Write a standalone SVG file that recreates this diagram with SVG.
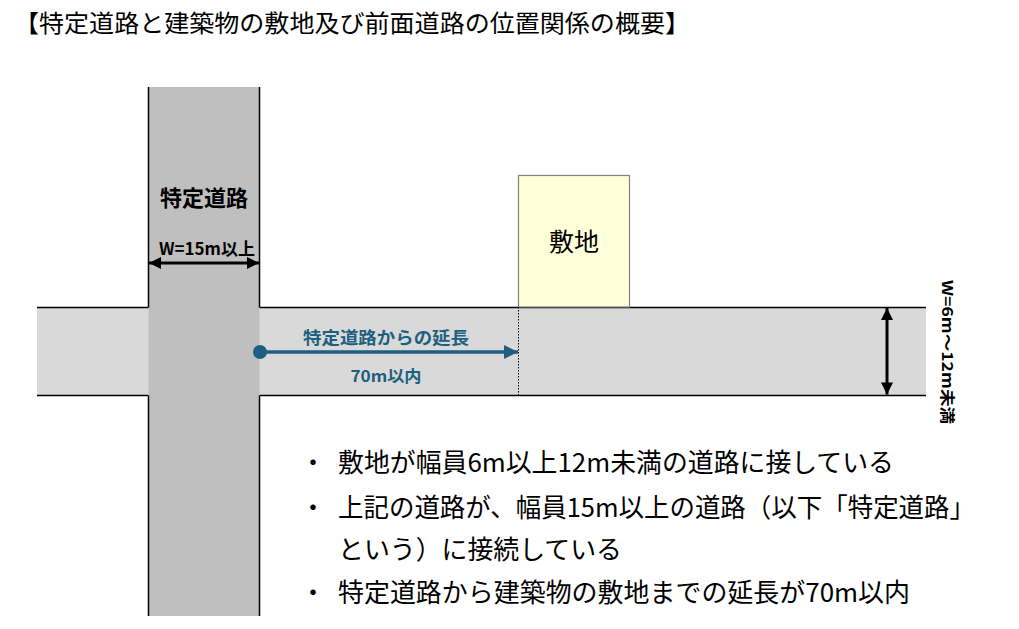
<svg xmlns="http://www.w3.org/2000/svg" width="1019" height="629" viewBox="0 0 1019 629">
  <style>
    .jp { font-family: "Noto Sans CJK JP", "Noto Sans", sans-serif; }
    .b { font-weight: bold; }
    .edge { stroke: #000; stroke-width: 1.5; fill: none; }
    .blue { fill: #1D5F80; }
  </style>
  <defs>
    <marker id="ah" viewBox="0 0 10 10" refX="10" refY="5" markerWidth="4.3" markerHeight="4" orient="auto-start-reverse" markerUnits="strokeWidth">
      <path d="M0,0 L10,5 L0,10 Z" fill="#000"/>
    </marker>
    <marker id="ahb" viewBox="0 0 10 10" refX="10" refY="5" markerWidth="4" markerHeight="4.2" orient="auto" markerUnits="strokeWidth">
      <path d="M0,0 L10,5 L0,10 Z" fill="#1D5F80"/>
    </marker>
  </defs>
  <rect width="1019" height="629" fill="#fff"/>

  <text class="jp" x="14" y="32" font-size="24" textLength="676" lengthAdjust="spacingAndGlyphs">【特定道路と建築物の敷地及び前面道路の位置関係の概要】</text>

  <g id="front-road">
    <rect x="37" y="307" width="889" height="88" fill="#D9D9D9"/>
    <path class="edge" d="M37,307.5 H148.5 M259.5,307.5 H926 M37,395.5 H148.5 M259.5,395.5 H926"/>
  </g>

  <g id="specific-road">
    <rect x="148.5" y="87" width="111" height="529" fill="#BFBFBF"/>
    <path class="edge" d="M148.5,87 V307.5 M148.5,395.5 V616 M259.5,87 V307.5 M259.5,395.5 V616"/>
    <text class="jp b" x="204" y="206" font-size="22" text-anchor="middle">特定道路</text>
    <text class="jp b" x="207" y="255" font-size="17" text-anchor="middle" textLength="96" lengthAdjust="spacingAndGlyphs">W=15m以上</text>
  </g>

  <g id="site">
    <rect x="518.5" y="175.5" width="111" height="131.5" fill="#FFFFD9" stroke="#808080" stroke-width="1.2"/>
    <text class="jp" x="574" y="251" font-size="25" text-anchor="middle">敷地</text>
  </g>

  <g id="connectors">
    <line x1="149" y1="263" x2="259" y2="263" stroke="#000" stroke-width="3" marker-start="url(#ah)" marker-end="url(#ah)"/>
    <line x1="887" y1="308" x2="887" y2="394.5" stroke="#000" stroke-width="3" marker-start="url(#ah)" marker-end="url(#ah)"/>
    <line x1="518.5" y1="307" x2="518.5" y2="395" stroke="#000" stroke-width="1" stroke-dasharray="1.5,1.5"/>
    <circle cx="260" cy="352" r="7" class="blue"/>
    <line x1="260" y1="352" x2="518" y2="352" stroke="#1D5F80" stroke-width="3.5" marker-end="url(#ahb)"/>
  </g>

  <g id="extension-label">
    <text class="jp b blue" x="386" y="344" font-size="17" text-anchor="middle" textLength="166" lengthAdjust="spacingAndGlyphs">特定道路からの延長</text>
    <text class="jp b blue" x="386" y="382" font-size="16" text-anchor="middle" textLength="71" lengthAdjust="spacingAndGlyphs">70m以内</text>
  </g>

  <g id="width-label">
    <text class="jp b" transform="translate(942,352) rotate(90)" font-size="15" text-anchor="middle" textLength="144" lengthAdjust="spacingAndGlyphs">W=6m～12m未満</text>
  </g>

  <g id="notes" class="jp" font-size="26">
    <text x="313" y="472" text-anchor="middle">・</text>
    <text x="338" y="472" textLength="556" lengthAdjust="spacingAndGlyphs">敷地が幅員6m以上12m未満の道路に接している</text>
    <text x="313" y="517" text-anchor="middle">・</text>
    <text x="338" y="517" textLength="637" lengthAdjust="spacingAndGlyphs">上記の道路が、幅員15m以上の道路（以下「特定道路」</text>
    <text x="338" y="559" textLength="284" lengthAdjust="spacingAndGlyphs">という）に接続している</text>
    <text x="313" y="602" text-anchor="middle">・</text>
    <text x="338" y="602" textLength="572" lengthAdjust="spacingAndGlyphs">特定道路から建築物の敷地までの延長が70m以内</text>
  </g>
</svg>
